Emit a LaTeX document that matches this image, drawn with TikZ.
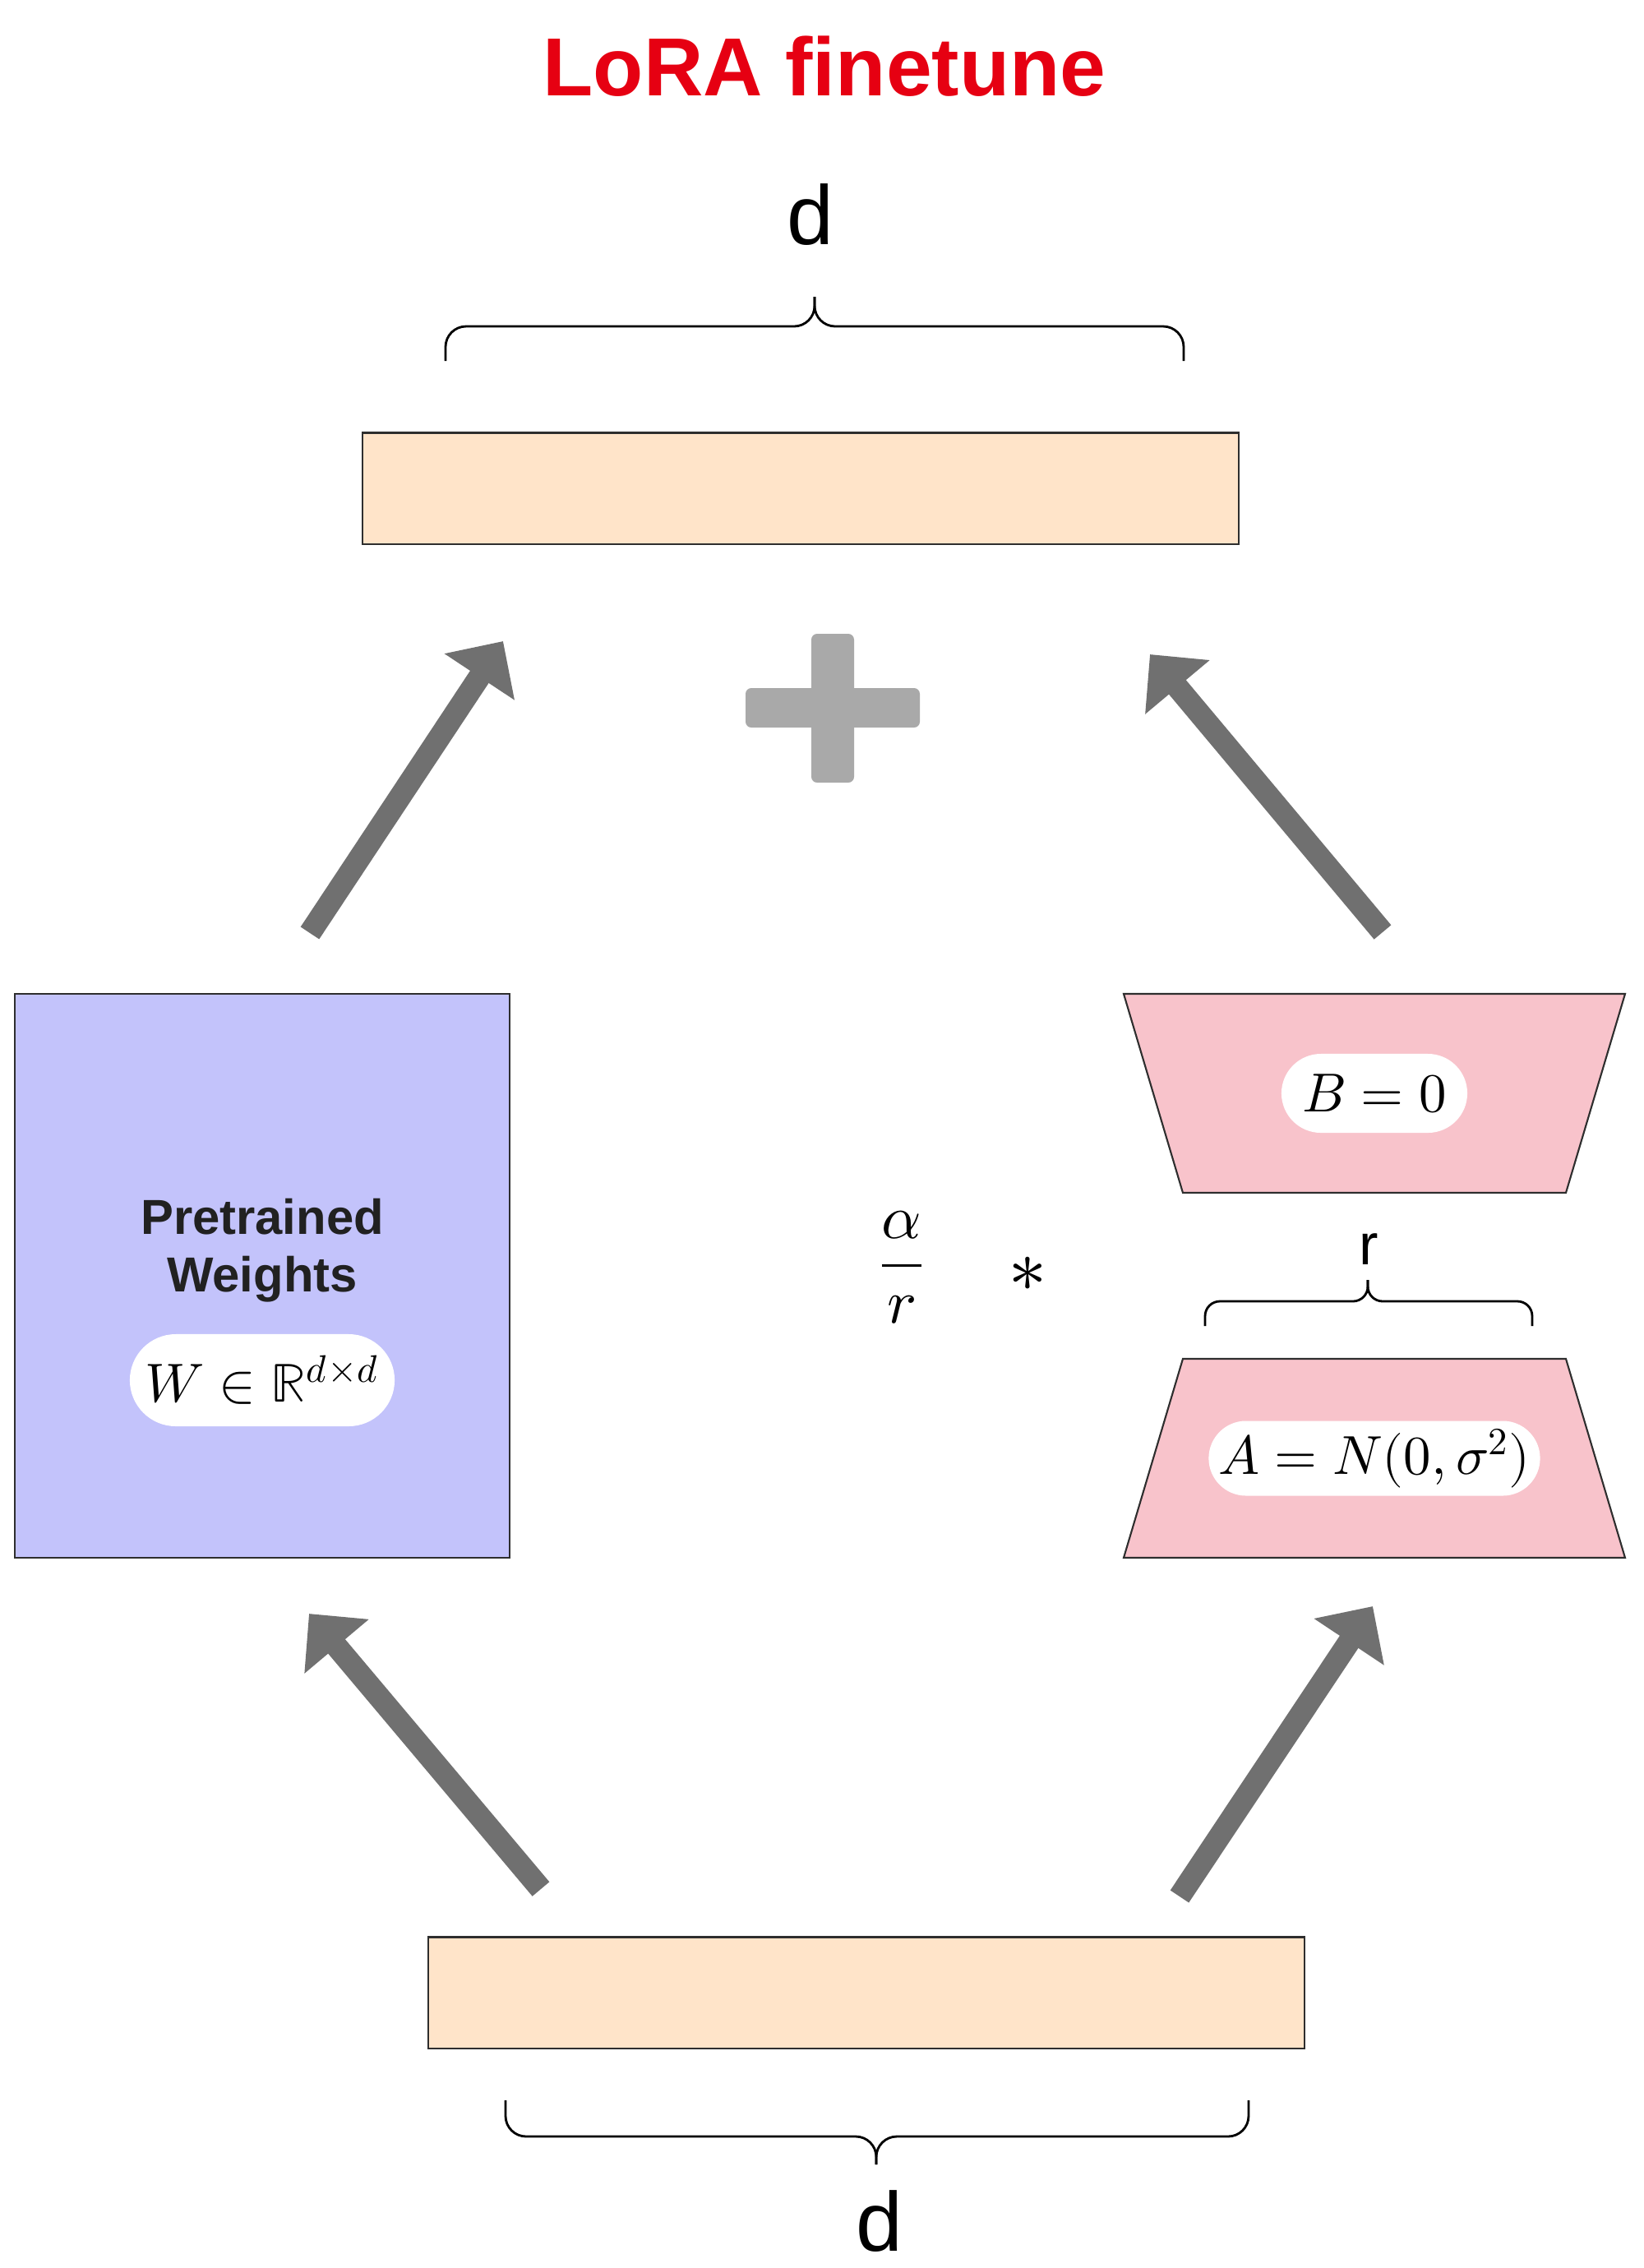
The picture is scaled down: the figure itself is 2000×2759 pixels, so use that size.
\documentclass[tikz,border=0pt]{standalone}
\usepackage{amsmath}
\usepackage{fontspec}
\usepackage{unicode-math}
\setmainfont{Liberation Sans}
\usetikzlibrary{arrows.meta,positioning}

\definecolor{loraRed}{HTML}{E60012}
\definecolor{vecFill}{HTML}{FFE4C9}
\definecolor{weightFill}{HTML}{C3C3FB}
\definecolor{lowrankFill}{HTML}{F8C3CB}
\definecolor{arrowGray}{HTML}{707070}
\definecolor{plusGray}{HTML}{A9A9A9}
\definecolor{edgeGray}{HTML}{2E2E2E}

\begin{document}
\begin{tikzpicture}[
  x=0.01cm, y=-0.01cm,
  every node/.style={align=center,inner sep=0pt},
  heading/.style={font=\fontsize{28.5}{34}\selectfont\bfseries,text=loraRed},
  dim/.style={font=\fontsize{29}{34}\selectfont},
  vector/.style={draw=edgeGray,line width=0.6pt,fill=vecFill,minimum width=10.65cm,minimum height=1.35cm},
  block/.style={draw=edgeGray,line width=0.6pt,fill=weightFill,minimum width=6.02cm,minimum height=6.86cm},
  lowrank/.style={draw=edgeGray,line width=0.6pt,fill=lowrankFill},
  pill/.style={fill=white,font=\fontsize{19}{23}\selectfont},
  dimbrace/.style={rounded corners=#1,line width=0.8pt},
  flow/.style={arrowGray,line width=7.7pt,-{Triangle[length=14.8pt,width=28.2pt]}},
  plussign/.style={fill=plusGray,rounded corners=2pt}]

  \useasboundingbox (0,0) rectangle (2000,2759);

  % Title
  \node[heading,anchor=base] (title) at (1003,116) {LoRA finetune};

  % Input and output vectors, pretrained weights
  \node[vector] (out) at (974,594) {};
  \node[vector] (in) at (1054,2424) {};
  \node[block] (W) at (319,1552) {};

  % Low rank factors B and A
  \draw[lowrank] (1367,1209) -- (1977,1209) -- (1905,1451) -- (1439,1451) -- cycle;
  \draw[lowrank] (1439,1653) -- (1905,1653) -- (1977,1895) -- (1367,1895) -- cycle;
  \coordinate (B) at (1672,1330);
  \coordinate (A) at (1672,1774);

  % Labels inside the blocks
  \node[font=\fontsize{17}{20}\selectfont\bfseries,text=black!87] (Wname) at (319,1521) {Pretrained\\Weights};
  \node[pill,minimum width=3.22cm,minimum height=1.12cm,rounded corners=0.56cm] (Wlabel) at (319,1679) {$W\in\mathbb{R}^{d\times d}$};
  \node[pill,minimum width=2.26cm,minimum height=0.96cm,rounded corners=0.48cm] (Blabel) at (B) {$B = 0$};
  \node[pill,minimum width=4.03cm,minimum height=0.91cm,rounded corners=0.455cm] (Alabel) at (A) {$A = N(0,\sigma^2)$};

  % Scaling factor
  \node[font=\fontsize{21.5}{26}\selectfont] (scale) at (1097,1542) {$\dfrac{\alpha}{r}$};
  \node[font=\fontsize{26}{30}\selectfont] (times) at (1250,1550) {$*$};

  % Dimension braces
  \coordinate (dout0) at (542,439);  \coordinate (dout1) at (1440,439);
  \coordinate (doutm) at (991,397);  \coordinate (douttip) at (991,361);
  \coordinate (din0) at (615,2555);  \coordinate (din1) at (1519,2555);
  \coordinate (dinm) at (1066,2599); \coordinate (dintip) at (1066,2633);
  \coordinate (rk0) at (1466,1613);  \coordinate (rk1) at (1864,1613);
  \coordinate (rkm) at (1664,1583);  \coordinate (rktip) at (1664,1557);
  \draw[dimbrace=0.25cm] (dout0) |- (doutm) -- (douttip);
  \draw[dimbrace=0.25cm] (dout1) |- (doutm) -- (douttip);
  \draw[dimbrace=0.25cm] (din0) |- (dinm) -- (dintip);
  \draw[dimbrace=0.25cm] (din1) |- (dinm) -- (dintip);
  \draw[dimbrace=0.18cm] (rk0) |- (rkm) -- (rktip);
  \draw[dimbrace=0.18cm] (rk1) |- (rkm) -- (rktip);
  \node[dim,anchor=base] (dtop) at (986,297) {d};
  \node[dim,anchor=base] (dbot) at (1070,2738) {d};
  \node[font=\fontsize{20}{24}\selectfont,anchor=base] (rank) at (1665,1538) {r};

  % Plus sign
  \fill[plussign] (987,771) rectangle (1039,952);
  \fill[plussign] (907,837) rectangle (1119,885);

  % Arrows
  \coordinate (inW) at (658,2298);   \coordinate (Wbot) at (376,1963);
  \coordinate (inA) at (1435,2307);  \coordinate (Abot) at (1670,1954);
  \coordinate (Wtop) at (377,1135);  \coordinate (outW) at (612,780);
  \coordinate (Btop) at (1682,1134); \coordinate (outB) at (1399,796);
  \draw[flow] (inW) -- (Wbot);
  \draw[flow] (inA) -- (Abot);
  \draw[flow] (Wtop) -- (outW);
  \draw[flow] (Btop) -- (outB);
\end{tikzpicture}
\end{document}
